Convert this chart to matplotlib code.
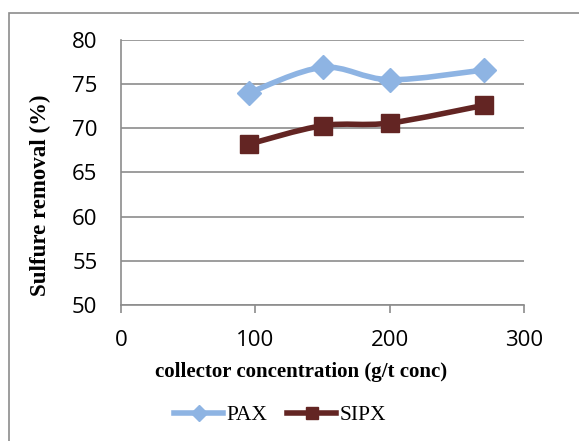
import numpy as np
import matplotlib
matplotlib.use("Agg")
import matplotlib.pyplot as plt
from matplotlib.path import Path
from matplotlib.patches import PathPatch, Rectangle

conc = [95, 150, 200, 270]
pax = [74.0, 76.9, 75.5, 76.6]
sipx = [68.2, 70.3, 70.6, 72.6]
series_names = ["PAX", "SIPX"]
xticks = [0, 100, 200, 300]
yticks = [50, 55, 60, 65, 70, 75, 80]

W, H = 579, 441
fig = plt.figure(figsize=(W/100, H/100), dpi=100)
ax = fig.add_axes([121/W, 1-305/H, (524-121)/W, (305-40)/H])

# outer chart frame
fig.patches.append(Rectangle((9/W, -0.1), 1.2, 1-13/H+0.1, transform=fig.transFigure,
                             fill=False, edgecolor="#8c8c8c", linewidth=1.2))

def smooth_path(x, y, t=1/6):
    x = np.asarray(x, float); y = np.asarray(y, float)
    pts = ax.transData.transform(np.column_stack([x, y]))
    verts = [pts[0]]; codes = [Path.MOVETO]
    n = len(pts)
    for i in range(n-1):
        p0 = pts[i-1] if i > 0 else pts[i]
        p1 = pts[i]; p2 = pts[i+1]
        p3 = pts[i+2] if i+2 < n else pts[i+1]
        c1 = p1 + (p2 - p0) * t
        c2 = p2 - (p3 - p1) * t
        verts += [c1, c2, p2]; codes += [Path.CURVE4]*3
    return Path(verts, codes)

ax.set_xlim(0, 300)
ax.set_ylim(50, 80)

colors = ["#8EB4E3", "#632523"]
markers = ["D", "s"]
msizes = [12.5, 13.5]
lmsizes = [8, 8]
for vals, c, m, ms, lms, name in zip([pax, sipx], colors, markers, msizes, lmsizes, series_names):
    ax.plot(conc, vals, linestyle="none", marker=m, markersize=ms, color=c, zorder=4)
    ax.plot([], [], color=c, lw=4, marker=m, markersize=lms, label=name)

fig.canvas.draw()
for vals, c in zip([pax, sipx], colors):
    p = smooth_path(conc, vals)
    patch = PathPatch(p, transform=None, facecolor="none", edgecolor=c, lw=4, zorder=3,
                      capstyle="round", joinstyle="round")
    ax.add_artist(patch)

ax.set_xticks(xticks)
ax.set_yticks(yticks)
tick_font = dict(family="Open Sans", size=16)
ax.set_xticklabels([str(v) for v in xticks], **tick_font)
ax.set_yticklabels([str(v) for v in yticks], **tick_font)
ax.yaxis.grid(True, color="#8c8c8c", lw=1.2)
ax.set_axisbelow(True)
for s in ["top", "right"]:
    ax.spines[s].set_visible(False)
for s in ["left", "bottom"]:
    ax.spines[s].set_color("#8c8c8c")
    ax.spines[s].set_linewidth(1.2)
ax.tick_params(axis="y", length=0, pad=17)
ax.tick_params(axis="x", length=6, color="#8c8c8c", width=1.2, pad=12, direction="out")

fig.text(301/W, 1-372/H, "collector concentration (g/t conc)", family="Liberation Serif",
         weight="bold", size=15, ha="center", va="center")
fig.text(40/W, 1-195/H, "Sulfure removal (%)", family="Liberation Serif", weight="bold",
         size=16.5, ha="center", va="center", rotation=90)

leg = fig.legend(loc="center", bbox_to_anchor=(280/W, 1-415/H), ncol=2, frameon=False,
                 prop=dict(family="Liberation Serif", size=15.5), handlelength=2.3,
                 columnspacing=0.9, handletextpad=0.15)

fig.savefig("out.png", dpi=100)
